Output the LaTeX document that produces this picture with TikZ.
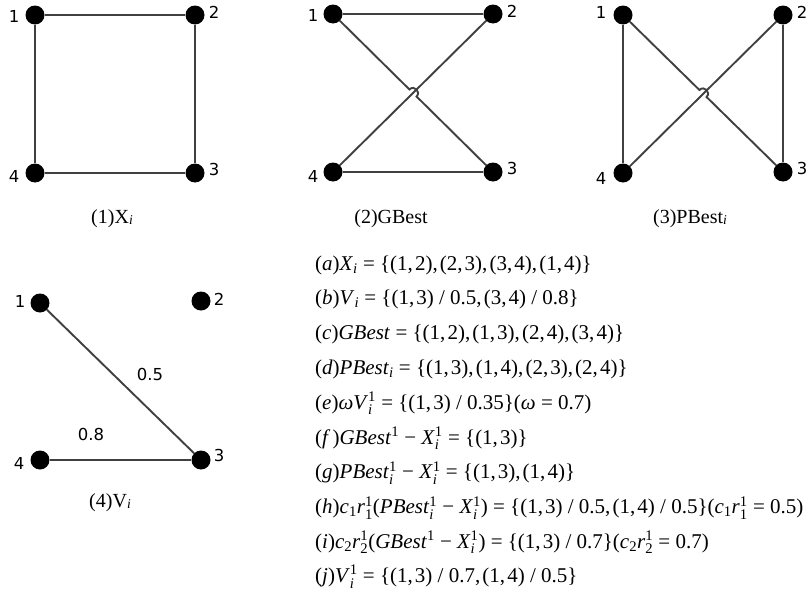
\documentclass[tikz,border=0pt]{standalone}
\usepackage{fontspec}
\usepackage{amsmath}
\setmainfont{Liberation Serif}
\newfontfamily\labfont{DejaVu Sans}
\usetikzlibrary{calc}
\newcommand\cm{,\kern0.1em}
\newcommand\sbi{$_{\textit{i}}$}
\newcommand\spi{$^{\text{1}}_{\textit{i}}$}
\newcommand\capi{\raisebox{-1pt}{\fontsize{13.5}{13.5}\selectfont\textit{i}}}
\tikzset{
  vtx/.style={circle, fill=black, inner sep=0pt, minimum size=19pt},
  edg/.style={draw=black!75, line width=1.9pt},
  lab/.style={font=\labfont\fontsize{16.5}{16.5}\selectfont, inner sep=1pt},
  captxt/.style={font=\fontsize{20}{23}\selectfont, anchor=base},
  eqtxt/.style={font=\fontsize{21}{25}\selectfont, anchor=base west, inner sep=0pt},
}
\begin{document}
\begin{tikzpicture}[x=1pt,y=-1pt]
\useasboundingbox (0,0) rectangle (809,589);
% ---------- panel 1 ----------
\node[vtx] (a1) at (35,15) {};
\node[vtx] (a2) at (195,15) {};
\node[vtx] (a3) at (195,173) {};
\node[vtx] (a4) at (35,173) {};
\node[lab] (a1l) at (14,16) {1};
\node[lab] (a2l) at (214,12) {2};
\node[lab] (a3l) at (214,169) {3};
\node[lab] (a4l) at (14,176) {4};
\draw[edg] (a1) -- (a2) -- (a3) -- (a4) -- (a1);
\node[captxt] (capa) at (112,223) {(1)X\capi};
% ---------- panel 2 ----------
\node[vtx] (b1) at (333,14) {};
\node[vtx] (b2) at (493,14) {};
\node[vtx] (b3) at (493,172) {};
\node[vtx] (b4) at (333,172) {};
\node[lab] (b1l) at (313,15) {1};
\node[lab] (b2l) at (512,11) {2};
\node[lab] (b3l) at (512,168) {3};
\node[lab] (b4l) at (313,176) {4};
\coordinate (bc) at ($(b1)!0.5!(b3)$);
\coordinate (bha) at ($(bc)!5pt!(b1)$);
\coordinate (bhb) at ($(bc)!5pt!(b3)$);
\draw[edg] (b1) -- (b2);
\draw[edg] (b4) -- (b3);
\draw[edg] (b2) -- (b4);
\draw[edg] (b1) -- (bha) .. controls ($(bha)!6.7pt!90:(bc)$) and ($(bhb)!6.7pt!-90:(bc)$) .. (bhb) -- (b3);
\node[captxt] (capb) at (391,223) {(2)GBest};
% ---------- panel 3 ----------
\node[vtx] (c1) at (623,15) {};
\node[vtx] (c2) at (783,15) {};
\node[vtx] (c3) at (783,172) {};
\node[vtx] (c4) at (623,173) {};
\node[lab] (c1l) at (601,12) {1};
\node[lab] (c2l) at (802,12) {2};
\node[lab] (c3l) at (802,168) {3};
\node[lab] (c4l) at (601,178) {4};
\coordinate (cc) at ($(c1)!0.5!(c3)$);
\coordinate (cha) at ($(cc)!5pt!(c1)$);
\coordinate (chb) at ($(cc)!5pt!(c3)$);
\draw[edg] (c1) -- (c4);
\draw[edg] (c2) -- (c3);
\draw[edg] (c2) -- (c4);
\draw[edg] (c1) -- (cha) .. controls ($(cha)!6.7pt!90:(cc)$) and ($(chb)!6.7pt!-90:(cc)$) .. (chb) -- (c3);
\node[captxt] (capc) at (690,223) {(3)PBest\capi};
% ---------- panel 4 ----------
\node[vtx] (d1) at (40,303) {};
\node[vtx] (d2) at (201,301) {};
\node[vtx] (d3) at (201,460) {};
\node[vtx] (d4) at (40,460) {};
\node[lab] (d1l) at (20,301) {1};
\node[lab] (d2l) at (219,299) {2};
\node[lab] (d3l) at (219,455) {3};
\node[lab] (d4l) at (19,463) {4};
\draw[edg] (d1) -- (d3);
\draw[edg] (d4) -- (d3);
\node[lab] (w13) at (150,374) {0.5};
\node[lab] (w34) at (91,434) {0.8};
\node[captxt] (capd) at (110,507) {(4)V\capi};
% ---------- equations ----------
\node[eqtxt] (ea) at (315,270.0) {(\textit{a})\textit{X}\sbi{} = \{(1\cm2)\cm(2\cm3)\cm(3\cm4)\cm(1\cm4)\}};
\node[eqtxt] (eb) at (315,304.8) {(\textit{b})\textit{V}\sbi{} = \{(1\cm3) / 0.5\cm(3\cm4) / 0.8\}};
\node[eqtxt] (ec) at (315,339.6) {(\textit{c})\textit{GBest} = \{(1\cm2)\cm(1\cm3)\cm(2\cm4)\cm(3\cm4)\}};
\node[eqtxt] (ed) at (315,374.4) {(\textit{d})\textit{PBest}\sbi{} = \{(1\cm3)\cm(1\cm4)\cm(2\cm3)\cm(2\cm4)\}};
\node[eqtxt] (ee) at (315,409.2) {(\textit{e})\textit{ωV}\spi{} = \{(1\cm3) / 0.35\}(\textit{ω} = 0.7)};
\node[eqtxt] (ef) at (315,444.0) {(\textit{f}\kern0.1em)\textit{GBest}$^{\text{1}}$ − \textit{X}\spi{} = \{(1\cm3)\}};
\node[eqtxt] (eg) at (315,478.8) {(\textit{g})\textit{PBest}\spi{} − \textit{X}\spi{} = \{(1\cm3)\cm(1\cm4)\}};
\node[eqtxt] (eh) at (315,513.6) {(\textit{h})\textit{c}$_{\text{1}}$\textit{r}$^{\text{1}}_{\text{1}}$(\textit{PBest}\spi{} − \textit{X}\spi) = \{(1\cm3) / 0.5\cm(1\cm4) / 0.5\}(\textit{c}$_{\text{1}}$\textit{r}$^{\text{1}}_{\text{1}}$ = 0.5)};
\node[eqtxt] (ei) at (315,548.4) {(\textit{i})\textit{c}$_{\text{2}}$\textit{r}$^{\text{1}}_{\text{2}}$(\textit{GBest}$^{\text{1}}$ − \textit{X}\spi) = \{(1\cm3) / 0.7\}(\textit{c}$_{\text{2}}$\textit{r}$^{\text{1}}_{\text{2}}$ = 0.7)};
\node[eqtxt] (ej) at (315,582.5) {(\textit{j})\textit{V}\spi{} = \{(1\cm3) / 0.7\cm(1\cm4) / 0.5\}};
\end{tikzpicture}
\end{document}
